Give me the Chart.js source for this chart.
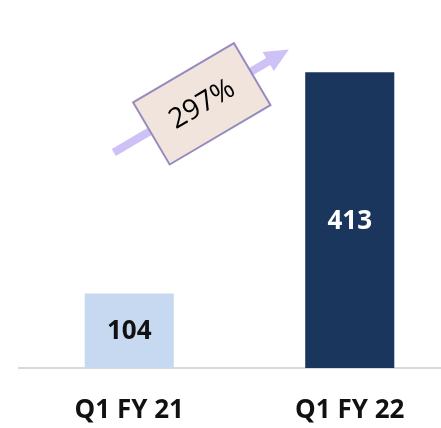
<!DOCTYPE html>
<html>
<head>
<meta charset="utf-8">
<script src="https://cdn.jsdelivr.net/npm/chart.js@4"></script>
<style>
  html, body { margin: 0; padding: 0; background: #fff; overflow: hidden; }
  #wrap { position: relative; width: 460px; height: 428px; }
</style>
</head>
<body>
<div id="wrap"><canvas id="revChart"></canvas></div>
<script>
// Umsatz Q1 im Jahresvergleich
const quarters = ['Q1 FY 21', 'Q1 FY 22'];
const revenue = [104, 413];
const barColors = ['#C6D9F1', '#1B365D'];
const valueColors = ['#111111', '#FFFFFF'];

const growthPct = Math.round((revenue[1] - revenue[0]) / revenue[0] * 100);
const FONT = '"Open Sans", "Noto Sans", sans-serif';

// Wertbeschriftung mittig im Balken
const barValues = {
    id: 'barValues',
    afterDatasetsDraw(chart) {
        const ctx = chart.ctx;
        const meta = chart.getDatasetMeta(0);
        ctx.save();
        ctx.font = 'bold 26px ' + FONT;
        ctx.textAlign = 'center';
        ctx.textBaseline = 'middle';
        meta.data.forEach((bar, i) => {
            ctx.fillStyle = valueColors[i];
            ctx.fillText(String(revenue[i]), bar.x, (bar.y + bar.base) / 2 + 1);
        });
        ctx.restore();
    }
};

// Wachstumspfeil mit gedrehtem Kasten
const growthArrow = {
    id: 'growthArrow',
    afterDatasetsDraw(chart) {
        const x = chart.scales.x, y = chart.scales.y;
        const ctx = chart.ctx;
        const x0 = x.getPixelForValue(-0.07), y0 = y.getPixelForValue(301);
        const x1 = x.getPixelForValue(0.724), y1 = y.getPixelForValue(445);
        const ang = Math.atan2(y1 - y0, x1 - x0);
        const len = Math.hypot(x1 - x0, y1 - y0);

        ctx.save();
        ctx.translate(x0, y0);
        ctx.rotate(ang);
        ctx.fillStyle = '#CDC1F6';
        ctx.fillRect(0, -4, len - 22, 8);
        ctx.beginPath();
        ctx.moveTo(len, 0);
        ctx.lineTo(len - 24, -11);
        ctx.lineTo(len - 24, 11);
        ctx.closePath();
        ctx.fill();
        ctx.restore();

        const cx = x.getPixelForValue(0.329), cy = y.getPixelForValue(369);
        ctx.save();
        ctx.translate(cx, cy);
        ctx.rotate(ang);
        ctx.fillStyle = '#F0E4DC';
        ctx.strokeStyle = '#958BBE';
        ctx.lineWidth = 2;
        ctx.beginPath();
        ctx.rect(-58.5, -36, 117, 72);
        ctx.fill();
        ctx.stroke();
        ctx.fillStyle = '#000';
        ctx.font = '28px ' + FONT;
        ctx.textAlign = 'center';
        ctx.textBaseline = 'middle';
        ctx.fillText(growthPct + '%', 0, 1);
        ctx.restore();
    }
};

new Chart(document.getElementById('revChart'), {
    type: 'bar',
    data: {
        labels: quarters,
        datasets: [{
            data: revenue,
            backgroundColor: barColors,
            borderWidth: 0,
            categoryPercentage: 1,
            barPercentage: 0.404
        }]
    },
    options: {
        responsive: true,
        maintainAspectRatio: false,
        animation: false,
        layout: { padding: { left: 19, right: 0, top: 10, bottom: 3 } },
        plugins: {
            legend: { display: false },
            tooltip: { enabled: false }
        },
        scales: {
            x: {
                grid: { display: false, drawTicks: false },
                border: { display: true, color: '#D9D9D9', width: 2 },
                ticks: {
                    color: '#111111',
                    padding: 27,
                    font: { family: FONT, size: 26, weight: 'bold' }
                },
                afterFit(scale) { scale.height = 57; }
            },
            y: {
                display: false,
                min: 0,
                max: 500
            }
        }
    },
    plugins: [barValues, growthArrow]
});
</script>
</body>
</html>
